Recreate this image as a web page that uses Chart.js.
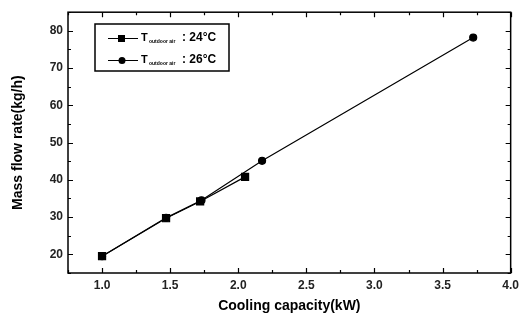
<!DOCTYPE html>
<html>
<head>
<meta charset="utf-8">
<script src="https://cdn.jsdelivr.net/npm/chart.js@4/dist/chart.umd.min.js"></script>
<style>
  html, body { margin: 0; padding: 0; background: #fff; }
  #wrap { width: 524px; height: 328px; }
</style>
</head>
<body>
<div id="wrap"><canvas id="chart" width="524" height="328"></canvas></div>
<script>
// data
const capacity24 = [1.0, 1.47, 1.72, 2.05];
const flow24 = [19.5, 29.7, 34.2, 40.8];
const capacity26 = [1.0, 1.47, 1.73, 2.175, 3.725];
const flow26 = [19.5, 29.8, 34.5, 45.1, 78.2];

const xTicks = [1.0, 1.5, 2.0, 2.5, 3.0, 3.5, 4.0];
const yTicks = [20, 30, 40, 50, 60, 70, 80];
const seriesLabels = ["24°C", "26°C"];

function pts(xs, ys) {
  return xs.map((x, i) => ({ x: x, y: ys[i] }));
}

const font = "'Liberation Sans', Arial, sans-serif";

// frame, inward ticks (major + minor) on all four sides, legend box
const frame = {
  id: "frame",
  afterDraw(chart) {
    const ctx = chart.ctx;
    const a = chart.chartArea;
    const xs = chart.scales.x, ys = chart.scales.y;
    ctx.save();
    ctx.strokeStyle = "#000";
    ctx.lineWidth = 1.5;
    ctx.strokeRect(a.left, a.top, a.right - a.left, a.bottom - a.top);
    ctx.lineWidth = 1.2;
    ctx.beginPath();
    for (let v = 0.75; v <= 4.001; v += 0.25) {
      const px = Math.round(xs.getPixelForValue(v)) + 0.5;
      const len = Math.abs(v * 2 - Math.round(v * 2)) < 0.01 ? 5 : 3;
      ctx.moveTo(px, a.bottom); ctx.lineTo(px, a.bottom - len);
      ctx.moveTo(px, a.top); ctx.lineTo(px, a.top + len);
    }
    for (let v = 15; v <= 85; v += 5) {
      const py = Math.round(ys.getPixelForValue(v)) + 0.5;
      const len = v % 10 === 0 ? 5 : 3;
      ctx.moveTo(a.left, py); ctx.lineTo(a.left + len, py);
      ctx.moveTo(a.right, py); ctx.lineTo(a.right - len, py);
    }
    ctx.stroke();

    // legend
    const bx = 95, by = 24, bw = 134, bh = 47;
    ctx.lineWidth = 1.5;
    ctx.strokeRect(bx, by, bw, bh);
    const rows = [38, 60];
    chart.data.datasets.forEach((ds, i) => {
      const y = rows[i];
      ctx.lineWidth = 1;
      ctx.beginPath();
      ctx.moveTo(108, y + 0.5); ctx.lineTo(138, y + 0.5);
      ctx.stroke();
      ctx.fillStyle = "#000";
      if (ds.pointStyle === "rect") {
        ctx.fillRect(118, y - 3, 7, 7);
      } else {
        ctx.beginPath(); ctx.arc(122, y + 0.5, 3.5, 0, Math.PI * 2); ctx.fill();
      }
      ctx.textBaseline = "middle";
      ctx.font = "bold 11px " + font;
      ctx.fillText("T", 141, y);
      ctx.font = "bold 5px " + font;
      ctx.fillText("outdoor air", 149, y + 4);
      ctx.font = "bold 12px " + font;
      ctx.fillText(": " + seriesLabels[i], 182, y);
    });
    ctx.restore();
  }
};

new Chart(document.getElementById("chart"), {
  type: "scatter",
  data: {
    datasets: [
      {
        label: seriesLabels[0],
        data: pts(capacity24, flow24),
        showLine: true,
        borderColor: "#000",
        backgroundColor: "#000",
        borderWidth: 1.2,
        pointStyle: "rect",
        pointRadius: 5,
        pointHoverRadius: 5,
      },
      {
        label: seriesLabels[1],
        data: pts(capacity26, flow26),
        showLine: true,
        borderColor: "#000",
        backgroundColor: "#000",
        borderWidth: 1.2,
        pointStyle: "circle",
        pointRadius: 3.5,
        pointHoverRadius: 3.5,
      },
    ],
  },
  options: {
    responsive: false,
    animation: false,
    events: [],
    layout: { padding: { top: 5, right: 13, left: 0, bottom: 0 } },
    plugins: { legend: { display: false }, tooltip: { enabled: false } },
    scales: {
      x: {
        type: "linear",
        min: 0.75,
        max: 4.0,
        grid: { display: false, drawTicks: false },
        border: { display: false },
        afterBuildTicks: (s) => { s.ticks = xTicks.map((v) => ({ value: v })); },
        afterFit: (s) => { s.height = 55; },
        ticks: {
          color: "#222",
          padding: 5,
          font: { family: font, size: 12, weight: "bold" },
          callback: (v) => Number(v).toFixed(1),
        },
        title: {
          display: true,
          text: "Cooling capacity(kW)",
          color: "#000",
          font: { family: font, size: 14, weight: "bold" },
          padding: { top: 13, bottom: 13 },
        },
      },
      y: {
        type: "linear",
        min: 15,
        max: 85,
        grid: { display: false, drawTicks: false },
        border: { display: false },
        afterBuildTicks: (s) => { s.ticks = yTicks.map((v) => ({ value: v })); },
        afterFit: (s) => { s.width = 68; },
        ticks: {
          color: "#222",
          padding: 5,
          font: { family: font, size: 12, weight: "bold" },
        },
        title: {
          display: true,
          text: "Mass flow rate(kg/h)",
          color: "#000",
          font: { family: font, size: 14, weight: "bold" },
          padding: { top: 10, bottom: 10 },
        },
      },
    },
  },
  plugins: [frame],
});
</script>
</body>
</html>
